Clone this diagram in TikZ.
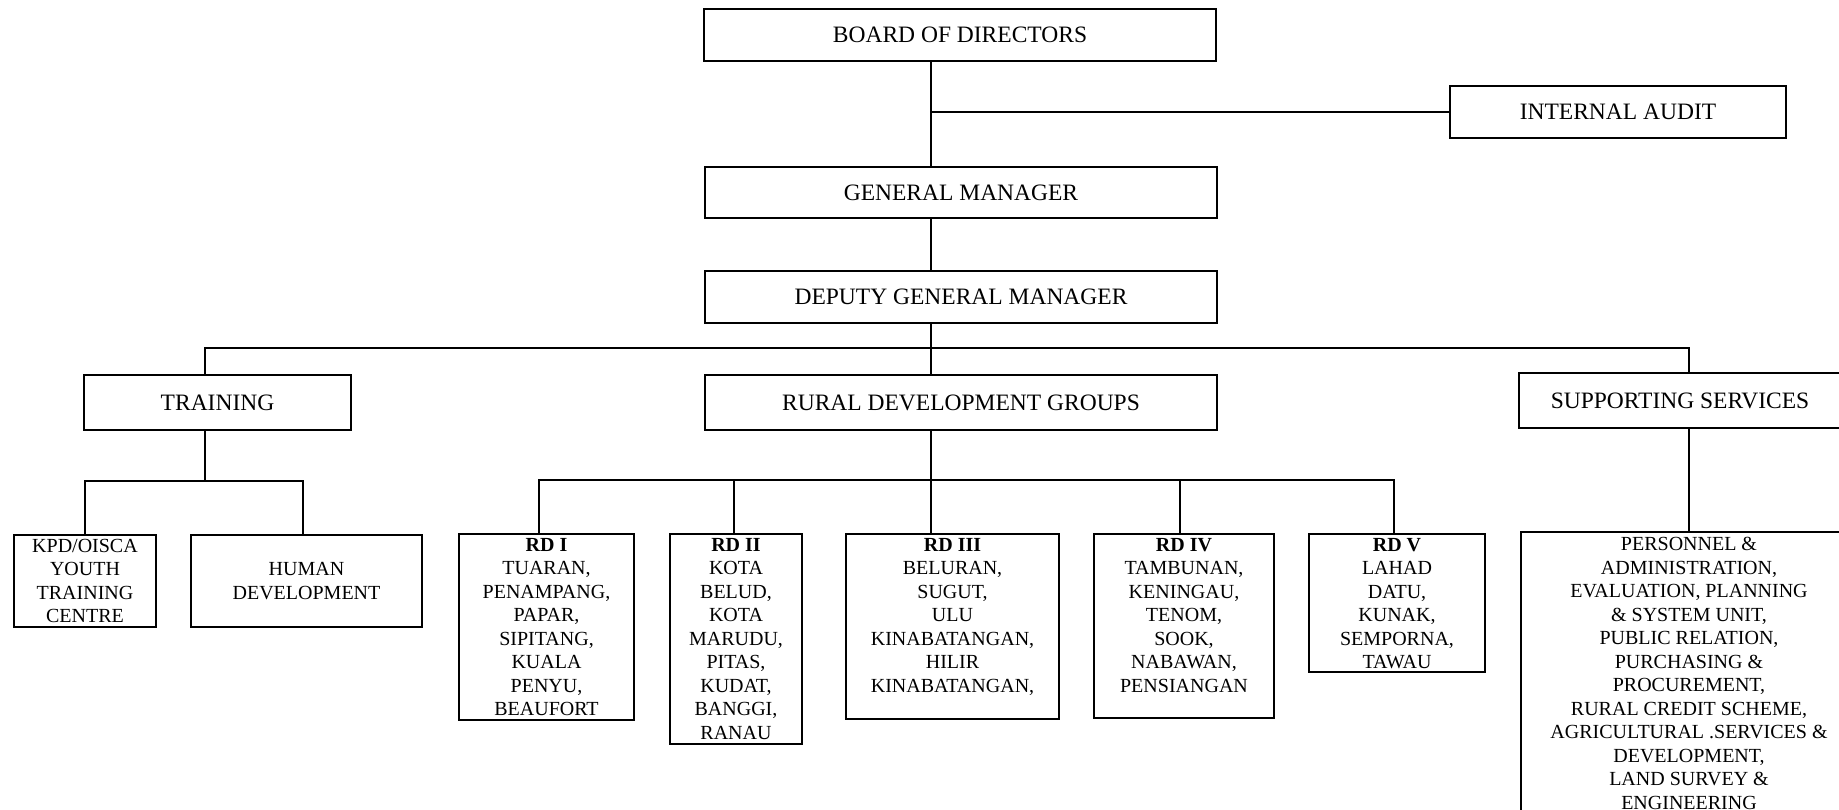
\documentclass[tikz,border=0pt]{standalone}
\usepackage{fontspec}
\setmainfont{Liberation Serif}
\begin{document}
\begin{tikzpicture}[x=1pt,y=-1pt,
  line width=1.1pt,
  box/.style={draw, line width=1.1pt, rectangle, inner sep=0pt},
  head/.style={font=\fontsize{23.5}{27}\selectfont},
  body/.style={font=\fontsize{20}{23.5}\selectfont, align=center, inner sep=0pt},
]
\clip (0,0) rectangle (1839,810);
\fill[white] (0,0) rectangle (1839,810);
% top level
\node[box,head,minimum width=512pt,minimum height=52pt] (board) at (960,35) {BOARD OF DIRECTORS};
\node[box,head,minimum width=336pt,minimum height=52pt] (audit) at (1618,112) {INTERNAL AUDIT};
\node[box,head,minimum width=512pt,minimum height=51pt] (gm) at (961,192.5) {GENERAL MANAGER};
\node[box,head,minimum width=512pt,minimum height=52pt] (dgm) at (961,297) {DEPUTY GENERAL MANAGER};
% second level
\node[box,head,minimum width=267pt,minimum height=55pt] (train) at (217.5,402.5) {TRAINING};
\node[box,head,minimum width=512pt,minimum height=55pt] (rdg) at (961,402.5) {RURAL DEVELOPMENT GROUPS};
\node[box,minimum width=330pt,minimum height=55pt] (ss) at (1684,400.5) {};
\node[head,anchor=center] (sst) at (1680,400.5) {SUPPORTING SERVICES};
% training children
\node[box,minimum width=142pt,minimum height=92pt] (kpd) at (85,581) {};
\node[body] at (kpd.center) {KPD/OISCA\\YOUTH\\TRAINING\\CENTRE};
\node[box,minimum width=231pt,minimum height=92pt] (hd) at (306.5,581) {};
\node[body] at (hd.center) {HUMAN\\DEVELOPMENT};
% RD children
\node[box,minimum width=175pt,minimum height=186pt] (rd1) at (546.5,627) {};
\node[body,anchor=north] at ([yshift=-4pt]rd1.north) {\textbf{RD I}\\TUARAN,\\PENAMPANG,\\PAPAR,\\SIPITANG,\\KUALA\\PENYU,\\BEAUFORT};
\node[box,minimum width=132pt,minimum height=210pt] (rd2) at (736,639) {};
\node[body,anchor=north] at ([yshift=-4pt]rd2.north) {\textbf{RD II}\\KOTA\\BELUD,\\KOTA\\MARUDU,\\PITAS,\\KUDAT,\\BANGGI,\\RANAU};
\node[box,minimum width=213pt,minimum height=185pt] (rd3) at (952.5,626.5) {};
\node[body,anchor=north] at ([yshift=-4pt]rd3.north) {\textbf{RD III}\\BELURAN,\\SUGUT,\\ULU\\KINABATANGAN,\\HILIR\\KINABATANGAN,};
\node[box,minimum width=180pt,minimum height=184pt] (rd4) at (1184,626) {};
\node[body,anchor=north] at ([yshift=-4pt]rd4.north) {\textbf{RD IV}\\TAMBUNAN,\\KENINGAU,\\TENOM,\\SOOK,\\NABAWAN,\\PENSIANGAN};
\node[box,minimum width=176pt,minimum height=138pt] (rd5) at (1397,603) {};
\node[body,anchor=north] at ([yshift=-4pt]rd5.north) {\textbf{RD V}\\LAHAD\\DATU,\\KUNAK,\\SEMPORNA,\\TAWAU};
% supporting services child
\node[box,minimum width=330pt,minimum height=290pt] (ssc) at (1686,677) {};
\node[body,anchor=north] at (1689,537) {PERSONNEL \&\\ADMINISTRATION,\\EVALUATION, PLANNING\\\& SYSTEM UNIT,\\PUBLIC RELATION,\\PURCHASING \&\\PROCUREMENT,\\RURAL CREDIT SCHEME,\\AGRICULTURAL .SERVICES \&\\DEVELOPMENT,\\LAND SURVEY \&\\ENGINEERING};
% connector coordinates
\coordinate (spine) at (931,0);
\coordinate (tx) at (205,0);
\coordinate (ssx) at (1689,0);
\coordinate (bus1) at (0,348);
\coordinate (bus2) at (0,481);
\coordinate (bus3) at (0,480);
\coordinate (d1) at (539,0);
\coordinate (d2) at (734,0);
\coordinate (d4) at (1180,0);
\coordinate (d5) at (1394,0);
\coordinate (hdx) at (303,0);
% connectors
\draw (board.south -| spine) -- (gm.north -| spine);
\draw (audit.west -| spine) -- (audit.west);
\draw (gm.south -| spine) -- (dgm.north -| spine);
\draw (dgm.south -| spine) -- (rdg.north -| spine);
\draw (train.north -| tx) -- (bus1 -| tx) -- (bus1 -| ssx) -- (ss.north -| ssx);
\draw (train.south -| tx) -- (bus2 -| tx);
\draw (kpd.north) -- (bus2 -| kpd.north) -- (bus2 -| hdx) -- (hd.north -| hdx);
\draw (rdg.south -| spine) -- (rd3.north -| spine);
\draw (rd1.north -| d1) -- (bus3 -| d1) -- (bus3 -| d5) -- (rd5.north -| d5);
\draw (bus3 -| d2) -- (rd2.north -| d2);
\draw (bus3 -| d4) -- (rd4.north -| d4);
\draw (ss.south -| ssx) -- (ssc.north -| ssx);
\end{tikzpicture}
\end{document}
